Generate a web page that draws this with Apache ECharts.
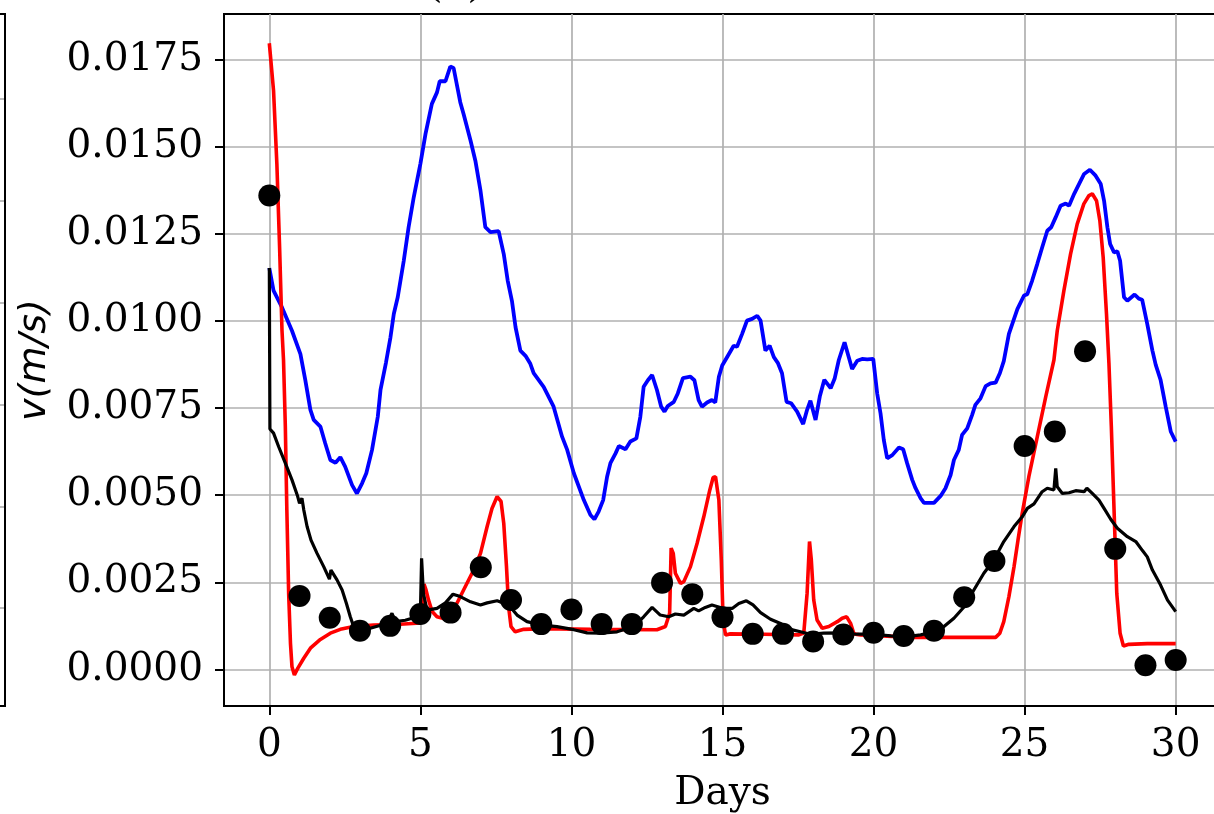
<!DOCTYPE html>
<html>
<head>
<meta charset="utf-8">
<script src="https://cdn.jsdelivr.net/npm/echarts@6/dist/echarts.min.js"></script>
<style>
html,body{margin:0;padding:0;background:#fff;}
#chart{width:1214px;height:814px;}
</style>
</head>
<body>
<div id="chart"></div>
<script>
// ---- data (days, velocity m/s) ----
const obsDays = [0,1,2,3,4,5,6,7,8,9,10,11,12,13,14,15,16,17,18,19,20,21,22,23,24,25,26,27,28,29,30];
const obsVelocity = [0.01360,0.00211,0.00148,0.00111,0.00125,0.00159,0.00163,0.00293,0.00199,0.00130,0.00172,0.00130,0.00130,0.00249,0.00216,0.00150,0.00102,0.00102,0.00080,0.00100,0.00105,0.00096,0.00111,0.00207,0.00311,0.00641,0.00683,0.00913,0.00346,0.00012,0.00027];

const blueCurve = [[0,0.01152],[0.14,0.01087],[0.42,0.01039],[0.75,0.00972],[1.03,0.00905],[1.19,0.00831],[1.36,0.00745],[1.47,0.00716],[1.69,0.00697],[1.85,0.00649],[2.02,0.00601],[2.19,0.00593],[2.35,0.00609],[2.51,0.00582],[2.74,0.00529],[2.90,0.00505],[3.07,0.00534],[3.21,0.00563],[3.40,0.00630],[3.59,0.00725],[3.68,0.00802],[3.86,0.00880],[4.01,0.00953],[4.12,0.01020],[4.25,0.01068],[4.45,0.01173],[4.61,0.01269],[4.78,0.01355],[5.00,0.01451],[5.17,0.01537],[5.38,0.01623],[5.55,0.01656],[5.64,0.01688],[5.83,0.01688],[5.99,0.01730],[6.10,0.01726],[6.32,0.01628],[6.43,0.01594],[6.66,0.01518],[6.82,0.01460],[6.99,0.01374],[7.15,0.01269],[7.32,0.01255],[7.59,0.01258],[7.76,0.01192],[7.89,0.01116],[8.03,0.01058],[8.15,0.00982],[8.31,0.00915],[8.48,0.00900],[8.64,0.00877],[8.75,0.00850],[9.08,0.00811],[9.41,0.00754],[9.69,0.00668],[9.86,0.00630],[10.08,0.00563],[10.41,0.00486],[10.63,0.00443],[10.76,0.00431],[10.90,0.00453],[11.05,0.00486],[11.18,0.00553],[11.29,0.00592],[11.46,0.00620],[11.57,0.00641],[11.79,0.00632],[11.95,0.00654],[12.15,0.00663],[12.28,0.00725],[12.39,0.00811],[12.53,0.00830],[12.67,0.00845],[12.83,0.00802],[12.97,0.00754],[13.08,0.00740],[13.19,0.00756],[13.39,0.00768],[13.52,0.00792],[13.69,0.00836],[13.94,0.00840],[14.07,0.00830],[14.21,0.00773],[14.32,0.00754],[14.49,0.00766],[14.65,0.00773],[14.76,0.00766],[14.88,0.00840],[14.99,0.00872],[15.15,0.00896],[15.37,0.00929],[15.48,0.00926],[15.65,0.00963],[15.81,0.01001],[15.98,0.01006],[16.15,0.01015],[16.26,0.01001],[16.42,0.00915],[16.56,0.00929],[16.70,0.00896],[16.83,0.00880],[16.97,0.00850],[17.12,0.00768],[17.27,0.00764],[17.47,0.00740],[17.67,0.00704],[17.80,0.00745],[17.91,0.00771],[18.08,0.00716],[18.22,0.00783],[18.37,0.00831],[18.58,0.00807],[18.71,0.00834],[18.85,0.00888],[19.04,0.00939],[19.18,0.00896],[19.29,0.00862],[19.46,0.00886],[19.62,0.00891],[19.79,0.00890],[19.99,0.00891],[20.12,0.00792],[20.23,0.00735],[20.34,0.00658],[20.45,0.00606],[20.62,0.00615],[20.84,0.00637],[20.98,0.00632],[21.11,0.00592],[21.28,0.00544],[21.39,0.00520],[21.56,0.00491],[21.67,0.00478],[22.00,0.00478],[22.22,0.00498],[22.38,0.00520],[22.55,0.00558],[22.66,0.00601],[22.82,0.00630],[22.93,0.00673],[23.10,0.00692],[23.26,0.00730],[23.37,0.00759],[23.54,0.00778],[23.71,0.00813],[23.87,0.00821],[24.04,0.00823],[24.18,0.00850],[24.31,0.00885],[24.48,0.00963],[24.59,0.00991],[24.76,0.01034],[24.98,0.01073],[25.09,0.01077],[25.25,0.01116],[25.42,0.01164],[25.58,0.01211],[25.75,0.01259],[25.88,0.01269],[26.03,0.01298],[26.19,0.01331],[26.36,0.01337],[26.47,0.01331],[26.64,0.01365],[26.80,0.01393],[26.97,0.01422],[27.16,0.01434],[27.35,0.01417],[27.52,0.01393],[27.63,0.01345],[27.74,0.01269],[27.83,0.01221],[27.96,0.01197],[28.07,0.01200],[28.16,0.01173],[28.29,0.01068],[28.40,0.01058],[28.64,0.01076],[28.78,0.01064],[28.89,0.01061],[29.06,0.00991],[29.23,0.00915],[29.34,0.00874],[29.50,0.00831],[29.67,0.00754],[29.84,0.00682],[30.00,0.00654]];

const redCurve = [[0,0.01797],[0.14,0.01661],[0.25,0.01451],[0.34,0.01212],[0.42,0.00972],[0.47,0.00888],[0.53,0.00697],[0.58,0.00458],[0.64,0.00218],[0.70,0.00075],[0.75,0.00008],[0.83,-0.00016],[0.94,0.00003],[1.14,0.00032],[1.36,0.00061],[1.69,0.00086],[2.02,0.00104],[2.35,0.00115],[2.79,0.00123],[3.45,0.00127],[4.19,0.00129],[5.00,0.00133],[5.08,0.00200],[5.12,0.00245],[5.18,0.00230],[5.27,0.00199],[5.39,0.00166],[5.55,0.00151],[5.77,0.00146],[5.99,0.00157],[6.21,0.00190],[6.43,0.00228],[6.71,0.00276],[6.99,0.00333],[7.21,0.00410],[7.37,0.00462],[7.54,0.00496],[7.67,0.00482],[7.76,0.00419],[7.85,0.00295],[7.92,0.00180],[8.00,0.00123],[8.14,0.00108],[8.42,0.00115],[9.08,0.00117],[10.63,0.00115],[12.83,0.00114],[13.11,0.00123],[13.25,0.00161],[13.30,0.00348],[13.37,0.00333],[13.44,0.00276],[13.61,0.00247],[13.72,0.00252],[13.94,0.00295],[14.16,0.00362],[14.38,0.00438],[14.58,0.00515],[14.69,0.00551],[14.77,0.00553],[14.84,0.00510],[14.88,0.00486],[14.96,0.00314],[15.02,0.00142],[15.10,0.00099],[15.26,0.00102],[16.37,0.00101],[17.53,0.00099],[17.69,0.00104],[17.80,0.00218],[17.88,0.00367],[17.94,0.00314],[18.02,0.00199],[18.13,0.00142],[18.30,0.00118],[18.52,0.00123],[18.80,0.00137],[18.96,0.00147],[19.11,0.00151],[19.24,0.00132],[19.35,0.00102],[19.57,0.00099],[21.33,0.00092],[24.04,0.00092],[24.18,0.00104],[24.31,0.00137],[24.48,0.00209],[24.65,0.00295],[24.78,0.00371],[24.92,0.00448],[25.14,0.00553],[25.42,0.00668],[25.70,0.00783],[25.97,0.00888],[26.08,0.00972],[26.30,0.01087],[26.52,0.01192],[26.74,0.01278],[26.96,0.01336],[27.13,0.01360],[27.24,0.01365],[27.38,0.01345],[27.49,0.01288],[27.60,0.01183],[27.71,0.01020],[27.79,0.00880],[27.87,0.00697],[27.96,0.00458],[28.05,0.00218],[28.16,0.00104],[28.27,0.00067],[28.45,0.00072],[29.06,0.00074],[30.00,0.00074]];

const blackCurve = [[0,0.01152],[0.02,0.00690],[0.14,0.00678],[0.31,0.00639],[0.53,0.00592],[0.75,0.00544],[0.94,0.00496],[1.00,0.00477],[1.08,0.00491],[1.14,0.00458],[1.25,0.00410],[1.38,0.00371],[1.58,0.00333],[1.80,0.00295],[1.99,0.00259],[2.04,0.00285],[2.24,0.00257],[2.41,0.00228],[2.55,0.00190],[2.68,0.00151],[2.79,0.00123],[3.01,0.00115],[3.34,0.00118],[3.89,0.00132],[4.06,0.00161],[4.17,0.00137],[4.50,0.00141],[4.89,0.00151],[5.00,0.00161],[5.04,0.00319],[5.10,0.00218],[5.22,0.00170],[5.55,0.00175],[5.83,0.00191],[6.08,0.00216],[6.32,0.00209],[6.66,0.00194],[6.99,0.00185],[7.21,0.00191],[7.54,0.00197],[7.92,0.00185],[8.20,0.00156],[8.53,0.00137],[8.97,0.00128],[9.52,0.00123],[10.08,0.00114],[10.52,0.00105],[10.96,0.00104],[11.51,0.00108],[12.06,0.00123],[12.39,0.00151],[12.67,0.00178],[12.94,0.00156],[13.22,0.00151],[13.44,0.00159],[13.72,0.00156],[14.05,0.00175],[14.21,0.00168],[14.43,0.00178],[14.65,0.00185],[15.04,0.00175],[15.32,0.00175],[15.54,0.00189],[15.79,0.00197],[16.01,0.00185],[16.26,0.00163],[16.59,0.00144],[16.92,0.00132],[17.25,0.00115],[17.58,0.00108],[17.91,0.00101],[18.35,0.00104],[18.91,0.00105],[19.46,0.00101],[20.01,0.00101],[20.57,0.00096],[21.11,0.00094],[21.56,0.00099],[22.00,0.00108],[22.33,0.00123],[22.66,0.00147],[23.00,0.00180],[23.32,0.00228],[23.65,0.00276],[23.98,0.00314],[24.31,0.00367],[24.65,0.00410],[24.92,0.00438],[25.09,0.00462],[25.31,0.00475],[25.58,0.00510],[25.75,0.00520],[25.97,0.00515],[26.03,0.00577],[26.08,0.00524],[26.25,0.00505],[26.47,0.00507],[26.69,0.00513],[26.97,0.00510],[27.06,0.00520],[27.24,0.00505],[27.46,0.00486],[27.63,0.00462],[27.85,0.00431],[28.07,0.00405],[28.40,0.00381],[28.68,0.00367],[28.90,0.00341],[29.06,0.00323],[29.23,0.00285],[29.50,0.00242],[29.73,0.00199],[30.00,0.00166]];

const xTicks = [0,5,10,15,20,25,30];
const yTicks = [0,0.0025,0.005,0.0075,0.01,0.0125,0.015,0.0175];

// ---- chart ----
const chart = echarts.init(document.getElementById('chart'), null, {renderer:'canvas'});
const serif = 'DejaVu Serif';
const obsPoints = obsDays.map((d,i)=>[d, obsVelocity[i]]);

const option = {
  animation:false,
  backgroundColor:'#ffffff',
  title:{
    text:'(b)', left:450, top:-38,
    textAlign:'center',
    textStyle:{fontFamily:serif, fontSize:39, fontWeight:'normal', color:'#000'}
  },
  grid:{
    left:224, top:14, width:997, height:692,
    outerBoundsMode:'none',
    show:true, borderColor:'#000', borderWidth:2, backgroundColor:'transparent',
    containLabel:false
  },
  xAxis:{
    type:'value', min:-1.5, max:31.5, minInterval:5, maxInterval:5,
    name:'Days', nameLocation:'middle', nameGap:68,
    nameTextStyle:{fontFamily:serif, fontSize:39, color:'#000'},
    axisLine:{show:true, onZero:false, lineStyle:{color:'#000', width:2}},
    axisTick:{show:true, length:9, lineStyle:{color:'#000', width:2}, customValues:xTicks},
    axisLabel:{show:true, margin:20, fontFamily:serif, fontSize:39, color:'#000', customValues:xTicks},
    splitLine:{show:true, lineStyle:{color:'#b0b0b0', width:1.7}}
  },
  yAxis:{
    type:'value', min:-0.00105, max:0.01881, minInterval:0.0025, maxInterval:0.0025,
    name:'v(m/s)', nameLocation:'middle', nameRotate:90, nameGap:170,
    nameTextStyle:{fontFamily:'DejaVu Sans', fontStyle:'italic', fontSize:38, color:'#000'},
    axisLine:{show:true, onZero:false, lineStyle:{color:'#000', width:2}},
    axisTick:{show:true, length:9, lineStyle:{color:'#000', width:2}, customValues:yTicks},
    axisLabel:{show:true, margin:21, fontFamily:serif, fontSize:39, color:'#000', customValues:yTicks,
      formatter:(v)=>v.toFixed(4)},
    splitLine:{show:true, lineStyle:{color:'#b0b0b0', width:1.7}}
  },
  graphic:[
    {type:'line', silent:true, shape:{x1:5, y1:13, x2:5, y2:707}, style:{stroke:'#000', lineWidth:2}},
    {type:'line', silent:true, shape:{x1:0, y1:14, x2:6, y2:14}, style:{stroke:'#000', lineWidth:2}},
    {type:'line', silent:true, shape:{x1:0, y1:706, x2:6, y2:706}, style:{stroke:'#000', lineWidth:2}},
    {type:'line', silent:true, shape:{x1:0, y1:99, x2:4, y2:99}, style:{stroke:'#b0b0b0', lineWidth:1.7}},
    {type:'line', silent:true, shape:{x1:0, y1:201, x2:4, y2:201}, style:{stroke:'#b0b0b0', lineWidth:1.7}},
    {type:'line', silent:true, shape:{x1:0, y1:303, x2:4, y2:303}, style:{stroke:'#b0b0b0', lineWidth:1.7}},
    {type:'line', silent:true, shape:{x1:0, y1:405, x2:4, y2:405}, style:{stroke:'#b0b0b0', lineWidth:1.7}},
    {type:'line', silent:true, shape:{x1:0, y1:507, x2:4, y2:507}, style:{stroke:'#b0b0b0', lineWidth:1.7}},
    {type:'line', silent:true, shape:{x1:0, y1:608, x2:4, y2:608}, style:{stroke:'#b0b0b0', lineWidth:1.7}}
  ],
  series:[
    {type:'line', name:'blue', data:blueCurve, showSymbol:false, symbol:'none',
      lineStyle:{color:'#0000ff', width:3.8}, z:2},
    {type:'line', name:'red', data:redCurve, showSymbol:false, symbol:'none',
      lineStyle:{color:'#ff0000', width:3.6}, z:3},
    {type:'line', name:'black', data:blackCurve, showSymbol:false, symbol:'none',
      lineStyle:{color:'#000000', width:3.2}, z:4},
    {type:'scatter', name:'observed', data:obsPoints, symbol:'circle', symbolSize:22,
      itemStyle:{color:'#000000', opacity:1}, z:5}
  ]
};
chart.setOption(option);
</script>
</body>
</html>
